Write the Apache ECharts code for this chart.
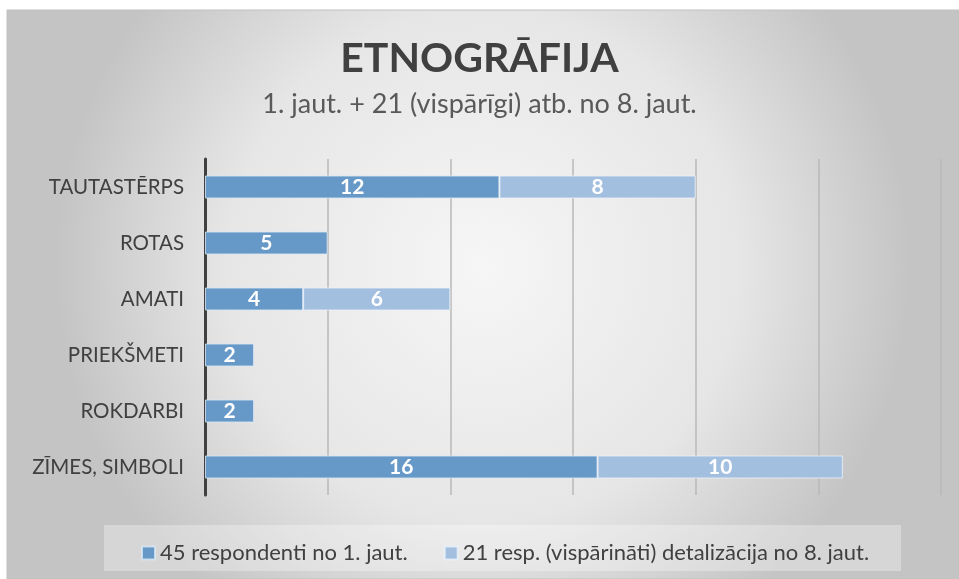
<!DOCTYPE html>
<html>
<head>
<meta charset="utf-8">
<script src="https://cdn.jsdelivr.net/npm/echarts@6/dist/echarts.min.js"></script>
<style>
  html, body { margin: 0; padding: 0; background: #ffffff; }
  #content_data { width: 959px; height: 579px; }
</style>
</head>
<body>
<div id="content_data"></div>
<script>
// data
const categories = ['TAUTASTĒRPS', 'ROTAS', 'AMATI', 'PRIEKŠMETI', 'ROKDARBI', 'ZĪMES, SIMBOLI'];
const series_1 = [12, 5, 4, 2, 2, 16];
const series_2 = [8, null, 6, null, null, 10];
const series_names = ['45 respondenti no 1. jaut.', '21 resp. (vispārināti) detalizācija no 8. jaut.'];
const title_text = 'ETNOGRĀFIJA';
const subtitle_text = '1. jaut. + 21 (vispārīgi) atb. no 8. jaut.';

const font = 'Lato, "Open Sans", sans-serif';

let Chart = echarts.init(document.getElementById('content_data'));

const barLabel = {
    show: true,
    position: 'inside',
    color: '#ffffff',
    fontWeight: 'bold',
    fontSize: 21,
    fontFamily: font
};

Chart.setOption({
    animation: false,
    textStyle: { fontFamily: font },
    graphic: [
        {
            type: 'rect',
            z: -100,
            silent: true,
            shape: { x: 7, y: 10, width: 952, height: 569 },
            style: {
                fill: {
                    type: 'radial', x: 0.5, y: 0.45, r: 0.75,
                    colorStops: [
                        { offset: 0, color: '#f6f6f6' },
                        { offset: 0.6, color: '#e6e6e6' },
                        { offset: 1, color: '#c4c4c4' }
                    ]
                },
                stroke: '#c0c0c0',
                lineWidth: 1
            }
        },
        {
            type: 'rect',
            z: -50,
            silent: true,
            shape: { x: 104, y: 525, width: 797, height: 46 },
            style: { fill: 'rgba(255,255,255,0.3)' }
        }
    ],
    title: {
        text: title_text,
        subtext: subtitle_text,
        left: 'center',
        top: 33,
        itemGap: 12,
        textStyle: {
            fontSize: 41,
            fontWeight: 'bold',
            color: '#404040',
            fontFamily: font
        },
        subtextStyle: {
            fontSize: 27,
            color: '#595959',
            fontFamily: font
        }
    },
    legend: {
        left: 136,
        top: 537,
        itemWidth: 13,
        itemHeight: 13,
        itemGap: 36,
        icon: 'rect',
        textStyle: { fontSize: 22, color: '#404040', fontFamily: font },
        data: series_names
    },
    grid: {
        left: 205,
        right: 18,
        top: 159,
        bottom: 84
    },
    xAxis: {
        type: 'value',
        min: 0,
        max: 30,
        interval: 5,
        axisLabel: { show: false },
        axisLine: { show: false },
        axisTick: { show: false },
        splitLine: { lineStyle: { color: '#b8b8b8', width: 1.5 } }
    },
    yAxis: {
        type: 'category',
        inverse: true,
        data: categories,
        axisLine: { lineStyle: { color: '#404040', width: 3 } },
        axisTick: { show: false },
        axisLabel: {
            fontSize: 20.5,
            color: '#404040',
            margin: 21,
            fontFamily: font
        }
    },
    series: [
        {
            name: series_names[0],
            type: 'bar',
            stack: 'total',
            barWidth: 23,
            data: series_1,
            itemStyle: { color: '#6699c7', borderColor: 'rgba(220,232,245,0.8)', borderWidth: 1 },
            label: barLabel
        },
        {
            name: series_names[1],
            type: 'bar',
            stack: 'total',
            barWidth: 23,
            data: series_2,
            itemStyle: { color: '#a3bfe0', borderColor: 'rgba(235,242,250,0.8)', borderWidth: 1 },
            label: barLabel
        }
    ]
});
</script>
</body>
</html>
